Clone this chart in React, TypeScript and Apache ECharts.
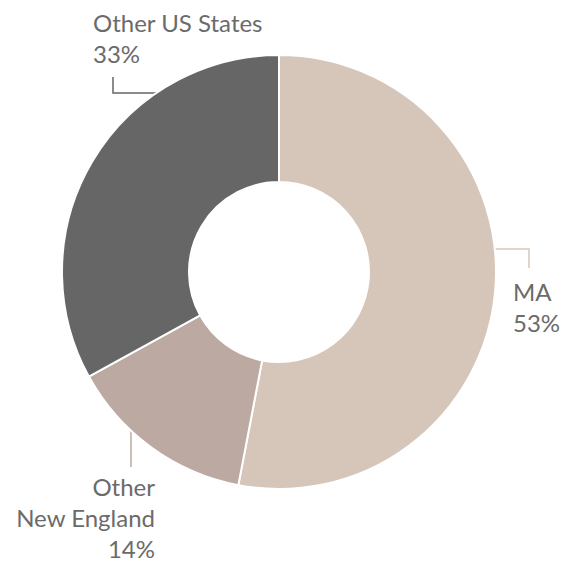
import React, { useEffect, useRef } from "react";
import * as echarts from "echarts";

const categories = ["MA", "Other\nNew England", "Other US States"];
const values = [53, 14, 33];
const colors = ["#D6C6BA", "#BCA9A1", "#666666"];

export default function App() {
  const ref = useRef<HTMLDivElement>(null);
  useEffect(() => {
    document.body.style.margin = "0";
    const chart = echarts.init(ref.current!, null, { renderer: "svg" });
    const layouts: any[] = [
      { x: 513, y: 276, align: "left", verticalAlign: "top", labelLinePoints: [[494, 249], [529, 249], [529, 268]] },
      { x: 155, y: 471, align: "right", verticalAlign: "top", labelLinePoints: [[131, 429], [131, 448], [131, 467]] },
      { x: 93, y: 7, align: "left", verticalAlign: "top", labelLinePoints: [[157, 93], [113, 93], [113, 77]] },
    ];
    chart.setOption({
      animation: false,
      backgroundColor: "#ffffff",
      series: [
        {
          type: "pie",
          center: [279, 272],
          radius: [90, 217],
          startAngle: 90,
          clockwise: true,
          avoidLabelOverlap: false,
          itemStyle: { borderColor: "#ffffff", borderWidth: 2 },
          label: {
            show: true,
            position: "outside",
            formatter: (p: any) => `${p.name}\n${Math.round(p.percent)}%`,
            color: "#6b6b6b",
            fontSize: 24,
            lineHeight: 31,
            fontFamily: "Lato",
          },
          labelLine: { show: true, lineStyle: { width: 1.5 } },
          labelLayout: (params: any) => layouts[params.dataIndex],
          data: categories.map((c, i) => ({
            name: c,
            value: values[i],
            itemStyle: { color: colors[i] },
          })),
        },
      ],
    });
    return () => chart.dispose();
  }, []);
  return <div ref={ref} style={{ width: 578, height: 562 }} />;
}
